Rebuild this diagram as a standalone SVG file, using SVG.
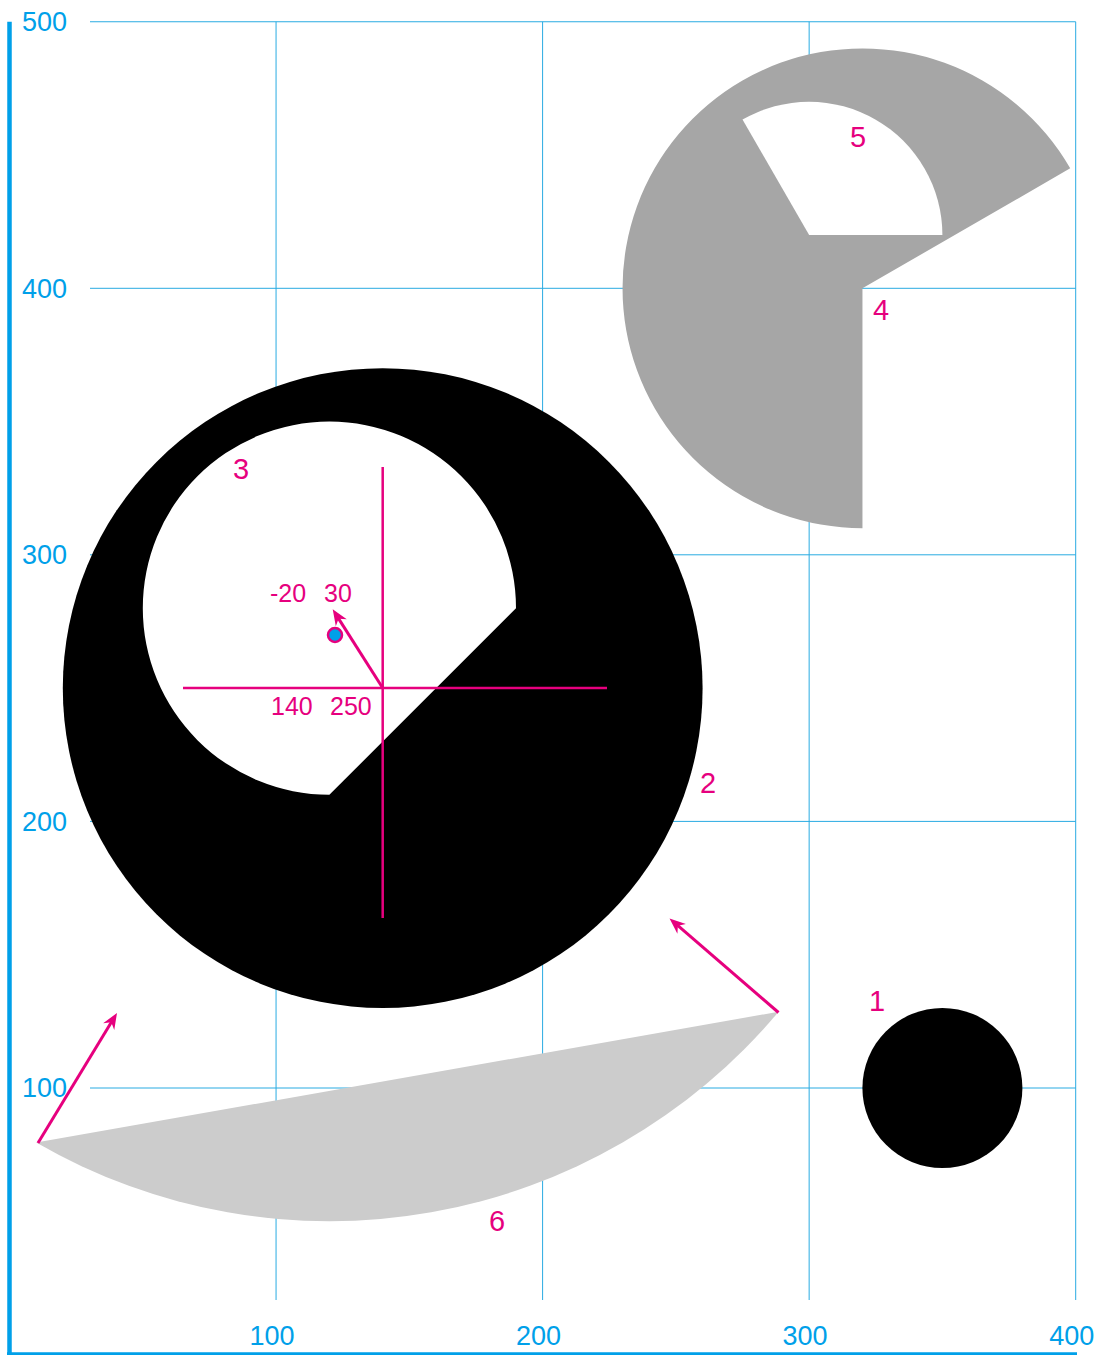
<svg xmlns="http://www.w3.org/2000/svg" width="1095" height="1355" viewBox="0 0 1095 1355">
<style>
.grid{stroke:#29abe2;stroke-width:1;fill:none}
.axis{stroke:#00a0e9;stroke-width:4.5;fill:none}
.alab{font-family:"Liberation Sans",Arial,sans-serif;font-size:27px;fill:#00a0e9}
.lab{font-family:"Liberation Sans",Arial,sans-serif;font-size:29px;fill:#e6007e;text-anchor:middle}
.clab{font-family:"Liberation Sans",Arial,sans-serif;font-size:25px;fill:#e6007e}
.mg{stroke:#e6007e;stroke-width:2.5;fill:none}
.arr{stroke:#e6007e;stroke-width:3;fill:none;marker-end:url(#ah)}
</style>
<defs>
<marker id="ah" markerUnits="userSpaceOnUse" viewBox="-17 -7 18 14" markerWidth="18" markerHeight="14" refX="-8" refY="0" orient="auto">
<path d="M0,0 L-16,-6.5 L-11,0 L-16,6.5 Z" fill="#e6007e"/>
</marker>
</defs>
<rect width="1095" height="1355" fill="#ffffff"/>
<g id="grid">
<path class="grid" d="M90,21.75H1075.7M90,288.3H1075.7M90,554.8H1075.7M90,821.4H1075.7M90,1088H1075.7"/>
<path class="grid" d="M276.05,21.75V1300M542.6,21.75V1300M809.15,21.75V1300M1075.7,21.75V1300"/>
<path class="axis" d="M9.5,21.75V1355M7,1354.5H1077"/>
<text class="alab" x="22" y="31">500</text>
<text class="alab" x="22" y="297.5">400</text>
<text class="alab" x="22" y="564">300</text>
<text class="alab" x="22" y="830.5">200</text>
<text class="alab" x="22" y="1097">100</text>
<text class="alab" x="272" y="1345" text-anchor="middle">100</text>
<text class="alab" x="538.6" y="1345" text-anchor="middle">200</text>
<text class="alab" x="805" y="1345" text-anchor="middle">300</text>
<text class="alab" x="1071.7" y="1345" text-anchor="middle">400</text>
</g>
<g id="shape6">
<path d="M36.2,1142.6 A586.4,586.4 0 0 0 778.6,1011.7 Z" fill="#cccccc"/>
<text class="lab" x="497" y="1231">6</text>
</g>
<g id="shape1">
<circle cx="942.4" cy="1088" r="80" fill="#000000"/>
<text class="lab" x="877" y="1011">1</text>
</g>
<g id="shape2">
<circle cx="382.7" cy="688.1" r="319.9" fill="#000000"/>
<text class="lab" x="708" y="793">2</text>
</g>
<g id="shape3">
<path d="M516,608.2 A186.6,186.6 0 1 0 329.4,794.8 Z" fill="#ffffff"/>
<text class="lab" x="241" y="478.5">3</text>
</g>
<g id="shape4">
<path d="M1070.2,168.35 A239.9,239.9 0 1 0 862.46,528.2 L862.46,288.3 Z" fill="#a6a6a6"/>
<text class="lab" x="881" y="319.5">4</text>
</g>
<g id="shape5">
<path d="M809.15,235 L942.4,235 A133.3,133.3 0 0 0 742.5,119.6 Z" fill="#ffffff"/>
<text class="lab" x="858" y="147">5</text>
</g>
<g id="cross">
<path class="mg" d="M183,688H607M382.7,467V918"/>
<text class="clab" x="270" y="601.5">-20</text>
<text class="clab" x="324" y="601.5">30</text>
<text class="clab" x="271" y="715">140</text>
<text class="clab" x="330" y="715">250</text>
<circle cx="335" cy="635" r="7" fill="#00a0e9" stroke="#e6007e" stroke-width="2.5"/>
</g>
<g id="connectors">
<path class="arr" d="M382.7,688 L337,616.1"/>
<path class="arr" d="M38,1143 L112.85,1019.8"/>
<path class="arr" d="M778.5,1012.5 L675.6,923.7"/>
</g>
</svg>
